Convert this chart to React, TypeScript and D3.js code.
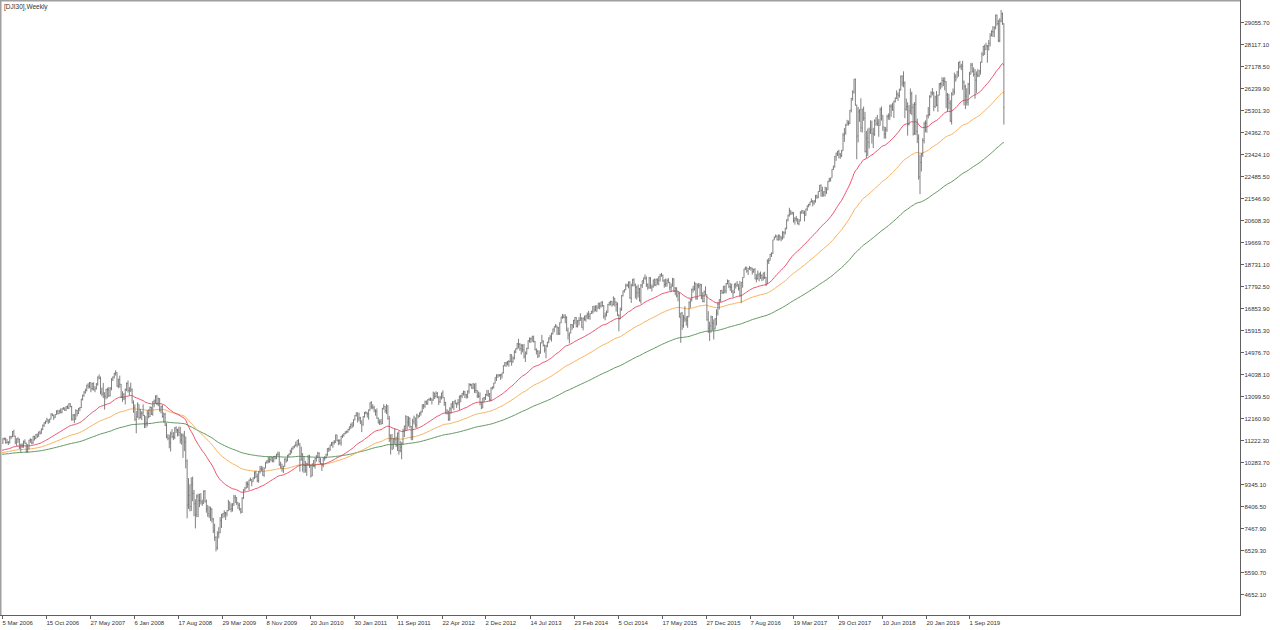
import React, { useMemo, useEffect } from "react";
import * as d3 from "d3";

// Weekly DJI30 bars, values stored in tens of points (x UNIT)
const UNIT = 10;
const PREV_CLOSE = 1102; // close of the week before the first bar

const weeklyHigh = [
  // 2006
  1110,1130,1133,1132,1126,1117,1140,1140,1160,1166,1140,1129,1134,1128,1106,1108,1120,1125,1111,1105,1123,1130,1126,1140,1140,1148,1150,1158,1162,1172,1188,1198,1205,1217,1210,1213,1236,1235,1230,1233,1249,1251,1251,
  // 2007
  1257,1258,1263,1262,1267,1270,1279,1279,1268,1233,1234,1253,1251,1258,1263,1298,1316,1331,1341,1358,1365,1370,1369,1366,1368,1352,1365,1393,1402,1393,1346,1366,1325,1340,1345,1348,1348,1386,1394,1409,1420,1412,1384,1397,1361,1330,1322,1342,1368,1376,1347,1367,
  // 2008
  1342,1291,1274,1246,1283,1274,1255,1245,1274,1228,1224,1249,1253,1266,1264,1288,1295,1313,1315,1303,1301,1268,1272,1240,1238,1195,1147,1145,1158,1169,1156,1177,1181,1170,1179,1179,1151,1150,1161,1137,1039,960,933,963,966,909,869,890,893,893,896,868,
  // 2009
  907,909,868,845,840,838,831,790,765,712,733,750,793,807,811,822,815,823,867,859,852,852,888,888,878,857,854,832,878,912,922,945,946,953,962,955,963,989,991,979,989,1012,1012,1009,1005,1029,1037,1050,1052,1049,1049,1054,
  // 2010
  1055,1063,1073,1072,1030,1021,1012,1045,1044,1058,1064,1081,1090,1096,1100,1115,1121,1126,1110,1094,1066,1050,1033,1025,1059,1059,1017,1022,1037,1045,1058,1072,1070,1046,1024,1046,1053,1063,1087,1090,1102,1114,1115,1122,1145,1145,1125,1125,1140,1146,1152,1159,1162,
  // 2011
  1170,1180,1193,1199,1210,1228,1240,1239,1239,1221,1205,1224,1242,1245,1240,1252,1283,1288,1275,1268,1252,1257,1218,1210,1212,1259,1275,1267,1275,1270,1225,1145,1148,1131,1172,1136,1154,1160,1119,1112,1170,1184,1228,1224,1223,1218,1182,1213,1226,1217,1234,1229,
  // 2012
  1240,1247,1274,1276,1290,1291,1296,1300,1304,1299,1329,1324,1330,1327,1308,1311,1324,1334,1304,1285,1254,1247,1262,1278,1288,1288,1294,1282,1297,1312,1315,1323,1333,1332,1319,1334,1365,1363,1362,1366,1362,1366,1335,1329,1325,1287,1302,1306,1319,1336,1336,1323,
  // 2013
  1347,1350,1366,1390,1402,1401,1404,1404,1409,1441,1454,1456,1459,1463,1489,1487,1479,1505,1513,1536,1554,1536,1532,1531,1532,1500,1515,1548,1560,1559,1566,1566,1545,1513,1506,1504,1538,1571,1547,1529,1528,1541,1560,1571,1580,1597,1607,1617,1610,1604,1624,1648,
  // 2014
  1660,1658,1659,1650,1602,1580,1617,1617,1635,1647,1646,1634,1646,1663,1646,1645,1653,1656,1666,1673,1663,1673,1693,1695,1696,1696,1707,1707,1712,1715,1698,1666,1675,1703,1712,1716,1715,1735,1728,1713,1709,1659,1687,1740,1760,1765,1789,1789,1799,1799,1789,1810,
  // 2015
  1812,1790,1780,1786,1771,1788,1803,1815,1829,1820,1790,1818,1817,1786,1806,1811,1810,1812,1820,1831,1835,1828,1808,1811,1810,1813,1796,1790,1814,1812,1775,1774,1755,1752,1665,1669,1656,1693,1650,1652,1714,1724,1768,1780,1798,1792,1790,1792,1790,1788,1753,1760,
  // 2016
  1778,1743,1672,1627,1653,1651,1637,1643,1680,1710,1723,1762,1763,1779,1780,1792,1807,1805,1792,1789,1763,1790,1793,1800,1786,1801,1796,1816,1853,1862,1862,1855,1864,1860,1857,1853,1856,1830,1845,1836,1841,1829,1837,1840,1818,1893,1899,1916,1923,1976,1991,1999,1995,
  // 2017
  1999,1997,1991,2013,2012,2027,2063,2084,2113,2102,2097,2094,2073,2078,2067,2065,2098,2103,2102,2101,2109,2123,2130,2139,2153,2146,2146,2168,2169,2184,2210,2213,2203,2184,2203,2199,2227,2241,2241,2278,2293,2334,2349,2355,2360,2347,2360,2432,2453,2471,2488,2485,
  // 2018
  2530,2581,2614,2662,2664,2552,2543,2533,2580,2535,2545,2522,2441,2451,2455,2486,2485,2454,2490,2500,2509,2491,2540,2545,2508,2458,2458,2509,2516,2553,2555,2561,2570,2584,2614,2605,2621,2677,2678,2695,2652,2579,2563,2551,2622,2608,2557,2564,2595,2493,2426,2340,
  // 2019
  2347,2410,2480,2486,2510,2543,2593,2610,2624,2608,2591,2611,2595,2645,2648,2670,2669,2670,2653,2603,2599,2572,2606,2622,2690,2683,2697,2735,2740,2727,2740,2656,2638,2623,2646,2693,2731,2731,2712,2705,2695,2704,2702,2735,2777,2804,2809,2817,2807,2829,2858,2870,
  // 2020
  2888,2887,2937,2937,2915,2922,2957,2946,2900,
];

const weeklyLow = [
  // 2006
  1095,1106,1121,1107,1107,1101,1107,1126,1134,1136,1104,1097,1110,1084,1070,1088,1089,1106,1069,1068,1082,1110,1104,1106,1120,1126,1131,1136,1145,1149,1164,1178,1190,1198,1191,1196,1210,1224,1208,1216,1230,1232,1234,
  // 2007
  1236,1236,1251,1246,1247,1255,1254,1262,1205,1205,1194,1209,1223,1233,1245,1258,1291,1307,1320,1330,1341,1343,1326,1334,1334,1326,1338,1354,1381,1317,1309,1301,1252,1296,1300,1306,1308,1334,1374,1385,1397,1349,1343,1346,1301,1285,1293,1274,1331,1325,1312,1327,
  // 2008
  1279,1238,1204,1151,1217,1209,1214,1207,1224,1173,1174,1180,1215,1220,1229,1226,1262,1277,1271,1266,1244,1236,1218,1196,1182,1130,1121,1087,1073,1130,1122,1126,1152,1137,1139,1107,1102,1046,1075,1001,788,828,818,819,861,797,745,793,793,836,847,841,
  // 2009
  850,856,812,794,789,777,770,725,692,647,654,703,724,747,788,792,781,796,819,823,814,817,841,853,845,828,821,808,811,871,904,915,918,909,947,925,944,955,960,942,940,979,988,970,965,1002,1021,1023,1025,1031,1027,1027,
  // 2010
  1039,1041,1054,1012,1000,987,981,1008,1025,1032,1049,1058,1065,1081,1087,1094,1091,1099,987,1034,987,981,983,969,1012,1003,962,968,1008,1000,1030,1046,1026,1019,990,1006,1034,1043,1053,1071,1076,1096,1089,1103,1110,1117,1100,1103,1098,1131,1137,1147,1150,
  // 2011
  1153,1163,1169,1173,1180,1206,1222,1197,1202,1190,1156,1184,1218,1232,1218,1209,1247,1255,1253,1241,1226,1213,1193,1186,1187,1190,1252,1238,1233,1209,1114,1060,1080,1085,1105,1092,1075,1060,1070,1040,1103,1135,1161,1166,1180,1173,1123,1123,1189,1175,1174,1215,
  // 2012
  1221,1226,1240,1254,1260,1272,1272,1289,1289,1274,1290,1297,1303,1300,1271,1280,1295,1300,1268,1235,1231,1204,1204,1235,1257,1250,1275,1259,1270,1249,1283,1301,1312,1301,1299,1300,1320,1351,1340,1339,1323,1322,1301,1302,1270,1254,1258,1284,1293,1310,1306,1288,
  // 2013
  1288,1337,1342,1363,1374,1387,1392,1379,1385,1406,1436,1434,1440,1435,1454,1439,1452,1466,1493,1508,1513,1503,1487,1496,1470,1455,1487,1510,1538,1536,1541,1538,1505,1487,1472,1475,1491,1534,1521,1495,1471,1518,1535,1548,1542,1572,1582,1601,1570,1571,1570,1621,
  // 2014
  1639,1642,1620,1587,1551,1534,1577,1592,1600,1616,1603,1602,1611,1631,1601,1590,1631,1627,1638,1637,1635,1660,1661,1667,1671,1668,1683,1680,1687,1690,1640,1633,1649,1665,1696,1696,1691,1697,1692,1670,1652,1586,1638,1673,1734,1751,1761,1776,1769,1725,1707,1778,
  // 2015
  1778,1726,1721,1730,1713,1704,1771,1788,1806,1775,1763,1767,1768,1756,1772,1779,1778,1784,1782,1799,1819,1797,1772,1776,1776,1791,1760,1754,1777,1754,1740,1731,1714,1645,1537,1592,1601,1626,1610,1601,1647,1686,1713,1752,1760,1721,1721,1769,1741,1723,1710,1709,
  // 2016
  1741,1631,1579,1545,1580,1589,1551,1594,1611,1653,1679,1711,1745,1746,1748,1748,1786,1770,1758,1750,1731,1749,1768,1776,1760,1735,1706,1772,1814,1847,1836,1826,1848,1844,1828,1836,1808,1795,1806,1799,1809,1800,1803,1809,1779,1788,1873,1888,1903,1916,1975,1986,1974,
  // 2017
  1973,1974,1970,1977,1983,1999,2021,2055,2075,2082,2083,2050,2041,2054,2042,2038,2056,2087,2087,2055,2079,2100,2115,2122,2136,2119,2126,2135,2151,2154,2181,2160,2160,2160,2162,2172,2189,2222,2225,2241,2274,2285,2313,2334,2324,2322,2329,2356,2394,2425,2464,2464,
  // 2018
  2470,2520,2570,2600,2548,2320,2392,2480,2436,2434,2484,2349,2325,2334,2366,2428,2387,2368,2420,2463,2462,2416,2464,2485,2441,2408,2408,2437,2489,2487,2501,2527,2496,2562,2577,2569,2583,2613,2631,2627,2495,2527,2421,2464,2513,2508,2421,2424,2423,2389,2233,2171,
  // 2019
  2268,2330,2388,2435,2433,2494,2505,2582,2592,2525,2539,2546,2522,2593,2618,2626,2632,2614,2538,2522,2533,2479,2468,2591,2596,2651,2666,2672,2707,2700,2616,2550,2534,2549,2549,2596,2682,2690,2672,2578,2603,2670,2671,2681,2731,2760,2765,2787,2732,2784,2801,2845,
  // 2020
  2842,2841,2874,2890,2820,2819,2904,2893,2468,
];

const weeklyClose = [
  // 2006
  1108,1128,1128,1111,1112,1114,1135,1137,1158,1138,1114,1128,1125,1089,1101,1099,1115,1109,1074,1087,1122,1124,1109,1138,1128,1146,1139,1156,1151,1168,1185,1196,1200,1209,1199,1211,1234,1228,1219,1231,1245,1234,1246,
  // 2007
  1240,1256,1257,1249,1265,1258,1277,1265,1211,1228,1211,1248,1235,1256,1261,1296,1312,1326,1333,1356,1351,1367,1342,1364,1336,1341,1361,1391,1385,1327,1318,1324,1308,1338,1336,1311,1344,1382,1390,1407,1409,1352,1381,1360,1304,1318,1298,1337,1363,1334,1345,1337,
  // 2008
  1280,1261,1210,1221,1274,1218,1235,1238,1227,1189,1195,1236,1222,1261,1233,1285,1289,1306,1275,1299,1248,1264,1221,1231,1184,1135,1129,1110,1150,1137,1133,1173,1166,1163,1154,1122,1142,1139,1114,1033,845,885,838,933,894,850,805,883,864,863,858,852,
  // 2009
  903,860,828,808,800,828,785,737,706,663,722,728,778,802,808,813,808,821,858,827,828,850,876,880,854,844,828,815,874,909,917,937,932,951,954,944,961,982,967,949,987,1000,997,971,1002,1027,1032,1031,1039,1047,1033,1052,
  // 2010
  1043,1062,1061,1017,1007,1001,1010,1040,1033,1057,1063,1074,1085,1093,1100,1102,1120,1101,1038,1062,1019,1014,993,1021,1045,1014,969,1020,1010,1043,1047,1065,1030,1021,1015,1045,1046,1061,1086,1083,1101,1106,1113,1112,1144,1119,1120,1109,1138,1141,1149,1157,1158,
  // 2011
  1167,1179,1187,1182,1209,1227,1239,1213,1217,1204,1186,1222,1238,1238,1234,1251,1281,1264,1260,1251,1244,1215,1195,1200,1193,1258,1266,1248,1268,1214,1144,1127,1082,1128,1124,1099,1151,1077,1091,1110,1164,1181,1223,1198,1215,1180,1123,1202,1218,1187,1229,1222,
  // 2012
  1236,1242,1272,1266,1286,1280,1295,1298,1298,1292,1323,1308,1321,1306,1285,1303,1323,1304,1282,1237,1245,1212,1255,1277,1264,1288,1277,1278,1282,1308,1310,1321,1328,1316,1309,1331,1359,1358,1344,1361,1333,1334,1311,1309,1282,1259,1301,1303,1316,1314,1319,1294,
  // 2013
  1344,1349,1365,1390,1401,1399,1398,1400,1409,1440,1451,1451,1458,1457,1487,1455,1471,1497,1512,1535,1530,1512,1525,1507,1480,1491,1514,1546,1554,1556,1566,1543,1508,1501,1481,1492,1538,1545,1526,1507,1524,1540,1557,1562,1576,1596,1607,1609,1602,1576,1622,1648,
  // 2014
  1647,1644,1646,1588,1570,1579,1615,1610,1632,1645,1607,1630,1632,1641,1603,1641,1636,1651,1658,1649,1661,1672,1692,1678,1695,1685,1707,1694,1710,1696,1649,1655,1666,1700,1710,1714,1699,1728,1711,1701,1654,1638,1681,1739,1757,1764,1781,1783,1796,1728,1780,1805,
  // 2015
  1783,1774,1751,1767,1717,1782,1802,1814,1813,1786,1775,1813,1771,1776,1806,1783,1808,1802,1819,1827,1823,1801,1785,1790,1802,1795,1773,1776,1809,1757,1769,1737,1748,1646,1664,1610,1643,1638,1632,1647,1708,1722,1765,1766,1791,1725,1782,1780,1785,1727,1713,1755,
  // 2016
  1743,1635,1599,1609,1647,1620,1597,1639,1664,1701,1721,1760,1752,1779,1758,1790,1800,1777,1774,1754,1750,1787,1781,1787,1768,1740,1795,1815,1852,1857,1843,1854,1858,1855,1840,1849,1809,1812,1826,1831,1824,1814,1815,1816,1789,1885,1887,1915,1917,1976,1984,1993,1976,
  // 2017
  1996,1989,1983,2009,2007,2027,2062,2082,2101,2090,2092,2060,2066,2066,2045,2055,2094,2101,2090,2081,2108,2121,2127,2138,2140,2135,2141,2164,2158,2183,2209,2186,2168,2181,2199,2180,2227,2235,2241,2277,2287,2333,2343,2354,2342,2336,2356,2423,2433,2465,2475,2472,
  // 2018
  2530,2580,2607,2662,2552,2419,2522,2531,2454,2534,2495,2353,2410,2393,2436,2446,2431,2426,2483,2472,2475,2464,2532,2509,2458,2427,2446,2502,2506,2545,2546,2531,2567,2579,2597,2592,2616,2674,2646,2645,2534,2544,2469,2527,2599,2541,2429,2554,2439,2410,2245,2306,
  // 2019
  2343,2400,2471,2474,2506,2511,2588,2603,2603,2545,2585,2550,2593,2643,2641,2656,2654,2651,2594,2576,2559,2482,2598,2609,2672,2660,2692,2733,2715,2719,2649,2629,2589,2563,2640,2680,2722,2694,2682,2657,2682,2677,2696,2735,2768,2801,2788,2805,2802,2814,2846,2865,
  // 2020
  2863,2882,2935,2899,2826,2910,2940,2899,2541,
];

// Moving averages (exponential), with their value at the first visible bar
const maPeriods = [50, 100, 200];
const maSeeds = [10770, 10680, 10610];
const maColors = ["#e9405e", "#f7a84a", "#4f8a4f"];

// Axis labels as printed on the chart
const yTickValues = [
  4652.1, 5590.7, 6529.3, 7467.9, 8406.5, 9345.1, 10283.7, 11222.3, 12160.9, 13099.5,
  14038.1, 14976.7, 15915.3, 16853.9, 17792.5, 18731.1, 19669.7, 20608.3, 21546.9,
  22485.5, 23424.1, 24362.7, 25301.3, 26239.9, 27178.5, 28117.1, 29055.7,
];
const xTickLabels = [
  "5 Mar 2006", "15 Oct 2006", "27 May 2007", "6 Jan 2008", "17 Aug 2008", "29 Mar 2009",
  "8 Nov 2009", "20 Jun 2010", "30 Jan 2011", "11 Sep 2011", "22 Apr 2012", "2 Dec 2012",
  "14 Jul 2013", "23 Feb 2014", "5 Oct 2014", "17 May 2015", "27 Dec 2015", "7 Aug 2016",
  "19 Mar 2017", "29 Oct 2017", "10 Jun 2018", "20 Jan 2019", "1 Sep 2019",
];
const X_TICK_STEP = 32; // bars between date labels
const TITLE = "[DJI30],Weekly";

const W = 1280;
const H = 630;
const PLOT = { left: 1, top: 1, right: 1240, bottom: 615 };
const FONT = "'Liberation Sans', Arial, sans-serif";

function ema(values: number[], period: number, seed: number) {
  const a = 2 / (period + 1);
  const out: number[] = [];
  let prev = seed;
  values.forEach((v, i) => {
    if (i > 0) prev = prev + a * (v - prev);
    out.push(prev);
  });
  return out;
}

export default function App() {
  useEffect(() => {
    document.body.style.margin = "0";
  }, []);

  const n = weeklyClose.length;
  const close = weeklyClose.map((v) => v * UNIT);
  const high = weeklyHigh.map((v, i) => Math.max(v * UNIT, close[i]));
  const low = weeklyLow.map((v, i) => Math.min(v * UNIT, close[i]));

  const x = d3.scaleLinear().domain([0, n - 1]).range([1.5, 1.5 + (n - 1) * 1.375]);
  const y = d3.scaleLinear().domain([4652.1, 29055.7]).range([594, 22]);

  const barsPath = useMemo(() => {
    const p = d3.path();
    for (let i = 0; i < n; i++) {
      const xi = x(i);
      const open = i === 0 ? PREV_CLOSE * UNIT : close[i - 1];
      const o = Math.min(Math.max(open, low[i]), high[i]);
      p.moveTo(xi, y(high[i]));
      p.lineTo(xi, y(low[i]));
      p.moveTo(xi - 0.5, y(o));
      p.lineTo(xi, y(o));
      p.moveTo(xi, y(close[i]));
      p.lineTo(xi + 0.5, y(close[i]));
    }
    return p.toString();
  }, []);

  const maLines = maPeriods.map((p, k) => {
    const vals = ema(close, p, maSeeds[k]);
    const line = d3
      .line<number>()
      .x((_, i) => x(i))
      .y((v) => y(v));
    return { color: maColors[k], d: line(vals) || "" };
  });

  return (
    <svg
      width={W}
      height={H}
      style={{ position: "absolute", left: 0, top: 0, background: "#fff", display: "block" }}
      fontFamily={FONT}
    >
      <rect x={0} y={0} width={W} height={H} fill="#ffffff" />
      <defs>
        <clipPath id="plotClip">
          <rect x={PLOT.left + 1} y={PLOT.top + 1} width={PLOT.right - PLOT.left - 1} height={PLOT.bottom - PLOT.top - 1} />
        </clipPath>
      </defs>
      <g clipPath="url(#plotClip)">
        {maLines.slice().reverse().map((m, i) => (
          <path key={i} d={m.d} fill="none" stroke={m.color} strokeWidth={0.9} />
        ))}
        <path d={barsPath} fill="none" stroke="#6a6a6a" strokeWidth={0.85} />
      </g>
      {/* frame */}
      <line x1={0} y1={0.75} x2={PLOT.right} y2={0.75} stroke="#a0a0a0" strokeWidth={1.5} />
      <line x1={0.75} y1={0} x2={0.75} y2={PLOT.bottom} stroke="#a0a0a0" strokeWidth={1.5} />
      <line x1={PLOT.right + 0.5} y1={0} x2={PLOT.right + 0.5} y2={PLOT.bottom + 0.5} stroke="#606060" strokeWidth={1} />
      <line x1={0} y1={PLOT.bottom + 0.5} x2={PLOT.right + 1} y2={PLOT.bottom + 0.5} stroke="#606060" strokeWidth={1} />
      {/* title */}
      <text x={4} y={9} fontSize={6.5} fill="#333">
        {TITLE}
      </text>
      {/* right axis */}
      {yTickValues.map((v) => (
        <g key={v} transform={`translate(0,${Math.round(y(v)) + 0.5})`}>
          <line x1={PLOT.right + 1} x2={PLOT.right + 4} y1={0} y2={0} stroke="#606060" />
          <text x={PLOT.right + 4.5} y={2.2} fontSize={6} fill="#333">
            {d3.format(".2f")(v)}
          </text>
        </g>
      ))}
      {/* bottom axis */}
      {xTickLabels.map((lab, k) => {
        const xi = x(k * X_TICK_STEP);
        return (
          <g key={lab} transform={`translate(${Math.round(xi) + 0.5},0)`}>
            <line x1={0} x2={0} y1={PLOT.bottom + 1} y2={PLOT.bottom + 4} stroke="#606060" />
            <text x={0} y={625} fontSize={6} fill="#333">
              {lab}
            </text>
          </g>
        );
      })}
    </svg>
  );
}
